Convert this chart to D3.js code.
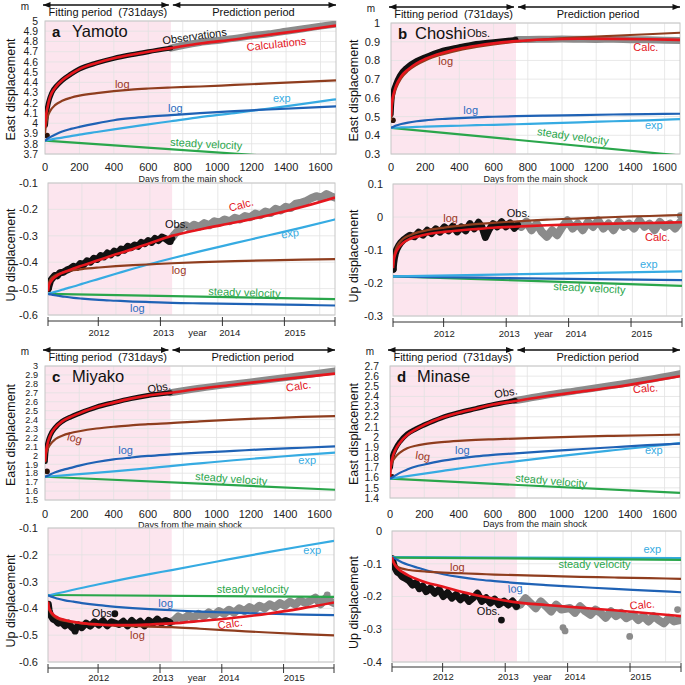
<!DOCTYPE html>
<html>
<head>
<meta charset="utf-8">
<script src="https://cdn.jsdelivr.net/npm/d3@7"></script>
<style>
  body { margin: 0; background: #fff; }
  svg { font-family: "Liberation Sans", Arial, sans-serif; }
</style>
</head>
<body>
<svg width="685" height="685"></svg>
<script>
/* shared axis values */
var fitDays = 731;
var dayMax = 1690;
var dayTicks = [0, 200, 400, 600, 800, 1000, 1200, 1400, 1600];
var yearTickDays = [296, 662, 1027, 1392];
var yearLabelDays = [300, 680, 1070, 1455];
var yearLabels = ["2012", "2013", "2014", "2015"];
var sampleDays = [0, 5, 15, 30, 60, 100, 150, 200, 300, 400, 500, 600, 731, 900, 1100, 1300, 1500, 1690];

/* a Yamoto */
var yamotoEastObs = [[0,3.88],[3,3.98],[10,4.11],[20,4.2],[40,4.3],[70,4.37],[100,4.42],[150,4.48],[200,4.53],[300,4.59],[400,4.635],[500,4.67],[600,4.70],[731,4.735],[800,4.76],[900,4.79],[1000,4.81],[1100,4.83],[1200,4.855],[1300,4.875],[1400,4.9],[1500,4.925],[1600,4.95],[1690,4.97]];
var yamotoEastCalc = [3.96, 4.06, 4.16, 4.26, 4.35, 4.42, 4.48, 4.53, 4.59, 4.635, 4.67, 4.70, 4.735, 4.78, 4.82, 4.865, 4.91, 4.955];
var yamotoEastLogBrown = [3.9, 3.98, 4.06, 4.12, 4.18, 4.22, 4.25, 4.27, 4.295, 4.315, 4.33, 4.34, 4.35, 4.36, 4.375, 4.39, 4.405, 4.42];
var yamotoEastLogBlue = [3.83, 3.835, 3.85, 3.865, 3.89, 3.92, 3.945, 3.965, 4.0, 4.03, 4.05, 4.065, 4.08, 4.1, 4.12, 4.135, 4.15, 4.165];
var yamotoEastExp = [3.83, 3.832, 3.835, 3.84, 3.85, 3.86, 3.875, 3.89, 3.915, 3.94, 3.965, 3.99, 4.02, 4.06, 4.1, 4.145, 4.19, 4.235];
var yamotoEastSteady = [[0,3.83],[1690,3.636]];

var yamotoUpObs = [[2,-0.50],[8,-0.485],[15,-0.47],[25,-0.462],[40,-0.45],[55,-0.452],[70,-0.44],[90,-0.438],[110,-0.43],[130,-0.425],[150,-0.415],[170,-0.42],[190,-0.405],[210,-0.41],[230,-0.395],[250,-0.40],[270,-0.385],[290,-0.39],[310,-0.375],[330,-0.38],[350,-0.365],[370,-0.372],[390,-0.358],[410,-0.365],[430,-0.35],[450,-0.355],[470,-0.34],[490,-0.345],[510,-0.335],[530,-0.34],[550,-0.325],[570,-0.33],[590,-0.318],[610,-0.325],[630,-0.31],[650,-0.318],[670,-0.305],[690,-0.31],[710,-0.32],[728,-0.31],[745,-0.295],[765,-0.28],[785,-0.27],[810,-0.26],[835,-0.27],[860,-0.258],[890,-0.266],[920,-0.252],[950,-0.26],[980,-0.245],[1010,-0.25],[1040,-0.238],[1070,-0.245],[1100,-0.232],[1130,-0.238],[1160,-0.225],[1190,-0.23],[1220,-0.216],[1250,-0.222],[1280,-0.208],[1310,-0.214],[1340,-0.198],[1370,-0.204],[1400,-0.19],[1430,-0.195],[1460,-0.178],[1490,-0.175],[1520,-0.168],[1550,-0.158],[1580,-0.15],[1610,-0.155],[1640,-0.142],[1665,-0.15],[1688,-0.155]];
var yamotoUpOutliers = [[2,-0.50],[720,-0.322]];
var yamotoUpCalc = [-0.51, -0.49, -0.475, -0.462, -0.448, -0.436, -0.424, -0.413, -0.392, -0.37, -0.35, -0.328, -0.30, -0.275, -0.25, -0.222, -0.19, -0.155];
var yamotoUpLogBrown = [-0.505, -0.48, -0.465, -0.455, -0.445, -0.437, -0.43, -0.426, -0.42, -0.415, -0.411, -0.408, -0.404, -0.40, -0.396, -0.393, -0.39, -0.388];
var yamotoUpLogBlue = [-0.52, -0.521, -0.522, -0.524, -0.527, -0.531, -0.535, -0.538, -0.543, -0.546, -0.549, -0.551, -0.554, -0.556, -0.558, -0.56, -0.562, -0.564];
var yamotoUpExp = [-0.52, -0.519, -0.517, -0.514, -0.509, -0.501, -0.492, -0.482, -0.463, -0.444, -0.425, -0.407, -0.385, -0.358, -0.328, -0.298, -0.268, -0.238];
var yamotoUpSteady = [[0,-0.52],[1690,-0.54]];

/* b Choshi */
var choshiEastObs = [[0,0.48],[1,0.51],[3,0.55],[6,0.59],[12,0.63],[25,0.67],[50,0.72],[93,0.765],[150,0.80],[200,0.82],[288,0.85],[400,0.873],[483,0.888],[600,0.9],[731,0.912],[800,0.912],[900,0.913],[1000,0.914],[1100,0.913],[1200,0.912],[1300,0.913],[1400,0.911],[1500,0.91],[1600,0.908],[1690,0.907]];
var choshiEastCalc = [0.50, 0.57, 0.62, 0.665, 0.715, 0.752, 0.785, 0.808, 0.84, 0.862, 0.878, 0.891, 0.903, 0.912, 0.916, 0.915, 0.913, 0.91];
var choshiEastLogBrown = [0.48, 0.55, 0.605, 0.652, 0.705, 0.745, 0.777, 0.80, 0.832, 0.855, 0.872, 0.886, 0.90, 0.912, 0.923, 0.932, 0.94, 0.948];
var choshiEastLogBlue = [0.44, 0.442, 0.446, 0.452, 0.46, 0.468, 0.475, 0.48, 0.487, 0.492, 0.496, 0.499, 0.502, 0.505, 0.508, 0.511, 0.513, 0.515];
var choshiEastExp = [0.44, 0.44, 0.441, 0.441, 0.442, 0.443, 0.445, 0.446, 0.449, 0.451, 0.454, 0.456, 0.459, 0.464, 0.469, 0.475, 0.48, 0.486];
var choshiEastSteady = [[0,0.44],[1690,0.292]];

var choshiUpObs = [[1,-0.158],[4,-0.14],[8,-0.125],[14,-0.11],[22,-0.098],[32,-0.088],[45,-0.078],[60,-0.07],[80,-0.062],[100,-0.055],[125,-0.06],[150,-0.046],[175,-0.055],[200,-0.04],[225,-0.05],[250,-0.036],[275,-0.046],[300,-0.03],[325,-0.042],[350,-0.028],[375,-0.045],[400,-0.03],[425,-0.042],[450,-0.02],[475,-0.036],[500,-0.016],[520,-0.03],[540,-0.062],[560,-0.04],[585,-0.02],[610,-0.03],[635,-0.014],[660,-0.03],[685,-0.018],[710,-0.034],[728,-0.024],[750,-0.03],[780,-0.014],[810,-0.04],[840,-0.02],[870,-0.045],[900,-0.06],[930,-0.04],[960,-0.055],[990,-0.03],[1020,-0.01],[1050,-0.035],[1080,-0.02],[1110,-0.04],[1140,-0.015],[1170,-0.03],[1200,-0.01],[1230,-0.035],[1260,-0.02],[1290,-0.04],[1320,-0.015],[1350,-0.03],[1380,-0.02],[1410,-0.035],[1440,-0.01],[1470,-0.03],[1500,-0.02],[1530,-0.04],[1560,-0.015],[1590,-0.03],[1620,-0.02],[1650,-0.035],[1680,-0.015]];
var choshiUpOutliers = [[1,-0.158],[1680,0.004]];
var choshiUpCalc = [-0.155, -0.13, -0.11, -0.095, -0.078, -0.066, -0.058, -0.052, -0.045, -0.04, -0.036, -0.032, -0.029, -0.025, -0.022, -0.02, -0.018, -0.016];
var choshiUpLogBrown = [-0.15, -0.125, -0.1, -0.083, -0.066, -0.055, -0.046, -0.04, -0.032, -0.026, -0.021, -0.017, -0.013, -0.008, -0.004, 0.0, 0.003, 0.006];
var choshiUpLogBlue = [[0,-0.18],[200,-0.182],[500,-0.184],[900,-0.187],[1300,-0.189],[1690,-0.191]];
var choshiUpExp = [[0,-0.18],[1690,-0.165]];
var choshiUpSteady = [[0,-0.18],[1690,-0.209]];

/* c Miyako */
var miyakoEastObs = [[0,1.82],[2,1.93],[5,2.02],[15,2.13],[30,2.22],[60,2.31],[100,2.38],[150,2.43],[200,2.47],[300,2.54],[400,2.59],[500,2.635],[600,2.67],[731,2.70],[900,2.75],[1100,2.80],[1300,2.845],[1500,2.895],[1690,2.945]];
var miyakoEastCalc = [1.93, 2.03, 2.13, 2.22, 2.31, 2.38, 2.43, 2.47, 2.54, 2.59, 2.635, 2.67, 2.70, 2.745, 2.79, 2.835, 2.875, 2.915];
var miyakoEastLogBrown = [1.92, 2.0, 2.07, 2.12, 2.18, 2.22, 2.25, 2.27, 2.30, 2.32, 2.335, 2.35, 2.36, 2.38, 2.40, 2.415, 2.43, 2.44];
var miyakoEastLogBlue = [1.76, 1.763, 1.77, 1.785, 1.81, 1.835, 1.86, 1.885, 1.925, 1.955, 1.975, 1.993, 2.01, 2.03, 2.05, 2.07, 2.085, 2.10];
var miyakoEastExp = [[0,1.76],[200,1.79],[400,1.82],[600,1.855],[731,1.88],[900,1.91],[1100,1.945],[1300,1.975],[1500,2.005],[1690,2.03]];
var miyakoEastSteady = [[0,1.76],[1690,1.615]];

var miyakoUpObs = [[2,-0.385],[6,-0.405],[12,-0.42],[20,-0.43],[30,-0.44],[45,-0.445],[60,-0.455],[80,-0.45],[100,-0.465],[120,-0.455],[140,-0.47],[160,-0.48],[180,-0.462],[200,-0.472],[225,-0.455],[250,-0.466],[275,-0.45],[300,-0.462],[325,-0.446],[350,-0.465],[375,-0.45],[420,-0.46],[445,-0.448],[470,-0.465],[495,-0.445],[520,-0.46],[545,-0.448],[570,-0.465],[595,-0.445],[620,-0.456],[645,-0.44],[670,-0.455],[695,-0.445],[720,-0.452],[745,-0.445],[770,-0.43],[800,-0.44],[830,-0.425],[860,-0.436],[890,-0.42],[920,-0.43],[950,-0.415],[980,-0.426],[1010,-0.41],[1040,-0.42],[1070,-0.405],[1100,-0.416],[1130,-0.40],[1160,-0.41],[1190,-0.395],[1220,-0.405],[1250,-0.39],[1280,-0.40],[1310,-0.385],[1340,-0.395],[1370,-0.38],[1400,-0.39],[1430,-0.375],[1460,-0.386],[1490,-0.37],[1520,-0.38],[1550,-0.372],[1580,-0.36],[1610,-0.385],[1640,-0.362],[1665,-0.372],[1688,-0.38]];
var miyakoUpOutliers = [[395,-0.42],[160,-0.485],[1650,-0.35]];
var miyakoUpCalc = [-0.375, -0.395, -0.41, -0.422, -0.435, -0.443, -0.45, -0.455, -0.46, -0.462, -0.462, -0.46, -0.456, -0.447, -0.435, -0.42, -0.40, -0.378];
var miyakoUpLogBrown = [-0.375, -0.40, -0.415, -0.427, -0.44, -0.447, -0.452, -0.456, -0.461, -0.464, -0.466, -0.468, -0.47, -0.476, -0.483, -0.49, -0.496, -0.501];
var miyakoUpLogBlue = [-0.352, -0.353, -0.355, -0.358, -0.364, -0.37, -0.375, -0.38, -0.388, -0.394, -0.399, -0.403, -0.407, -0.412, -0.416, -0.42, -0.423, -0.425];
var miyakoUpExp = [[0,-0.352],[300,-0.31],[600,-0.272],[731,-0.257],[1000,-0.225],[1300,-0.19],[1500,-0.168],[1690,-0.148]];
var miyakoUpSteady = [[0,-0.35],[1690,-0.357]];

/* d Minase */
var minaseEastObs = [[0,1.61],[3,1.70],[8,1.77],[15,1.82],[30,1.88],[60,1.96],[100,2.03],[150,2.08],[200,2.12],[300,2.19],[400,2.24],[500,2.28],[600,2.32],[731,2.36],[900,2.41],[1100,2.46],[1300,2.51],[1500,2.565],[1690,2.625]];
var minaseEastCalc = [1.61, 1.72, 1.80, 1.87, 1.95, 2.02, 2.075, 2.12, 2.19, 2.24, 2.28, 2.32, 2.355, 2.40, 2.445, 2.49, 2.545, 2.60];
var minaseEastLogBrown = [1.61, 1.70, 1.76, 1.80, 1.85, 1.89, 1.915, 1.93, 1.95, 1.963, 1.972, 1.978, 1.985, 1.995, 2.005, 2.012, 2.018, 2.024];
var minaseEastLogBlue = [1.59, 1.595, 1.605, 1.62, 1.65, 1.68, 1.71, 1.73, 1.765, 1.79, 1.81, 1.825, 1.84, 1.86, 1.88, 1.90, 1.92, 1.935];
var minaseEastExp = [[0,1.59],[300,1.665],[600,1.735],[731,1.76],[1000,1.815],[1300,1.87],[1500,1.905],[1690,1.94]];
var minaseEastSteady = [[0,1.59],[1690,1.45]];

var minaseUpObs = [[2,-0.085],[6,-0.095],[12,-0.105],[20,-0.115],[30,-0.125],[45,-0.13],[60,-0.14],[80,-0.145],[100,-0.152],[120,-0.165],[140,-0.158],[160,-0.176],[180,-0.168],[200,-0.185],[225,-0.174],[250,-0.19],[275,-0.178],[300,-0.2],[325,-0.188],[350,-0.205],[375,-0.194],[400,-0.21],[425,-0.198],[450,-0.215],[475,-0.204],[500,-0.19],[525,-0.215],[550,-0.204],[575,-0.22],[600,-0.208],[625,-0.225],[655,-0.214],[680,-0.226],[705,-0.214],[728,-0.23],[750,-0.225],[780,-0.205],[810,-0.22],[840,-0.236],[870,-0.215],[900,-0.23],[930,-0.246],[960,-0.225],[990,-0.24],[1040,-0.235],[1070,-0.25],[1100,-0.23],[1130,-0.245],[1160,-0.256],[1190,-0.24],[1220,-0.25],[1250,-0.265],[1280,-0.245],[1310,-0.26],[1340,-0.25],[1370,-0.266],[1410,-0.255],[1440,-0.272],[1470,-0.26],[1500,-0.276],[1530,-0.26],[1560,-0.272],[1590,-0.282],[1620,-0.265],[1650,-0.276],[1688,-0.272]];
var minaseUpOutliers = [[640,-0.272],[1000,-0.295],[1012,-0.305],[1390,-0.322],[1670,-0.24]];
var minaseUpCalc = [-0.08, -0.09, -0.102, -0.113, -0.125, -0.137, -0.148, -0.157, -0.17, -0.185, -0.197, -0.207, -0.218, -0.226, -0.234, -0.242, -0.251, -0.26];
var minaseUpLogBrown = [-0.08, -0.09, -0.1, -0.108, -0.115, -0.119, -0.122, -0.124, -0.127, -0.129, -0.131, -0.133, -0.135, -0.137, -0.14, -0.142, -0.144, -0.146];
var minaseUpLogBlue = [-0.08, -0.081, -0.083, -0.088, -0.096, -0.104, -0.112, -0.12, -0.132, -0.141, -0.148, -0.153, -0.159, -0.165, -0.171, -0.177, -0.182, -0.187];
var minaseUpExp = [[0,-0.08],[1690,-0.083]];
var minaseUpSteady = [[0,-0.081],[1690,-0.088]];

/* in-plot labels: text, day, value, colour key, angle */
var yamotoEastNotes = [["Observations",685,4.77,"obs",-8],["Calculations",1173,4.707,"calc",-6],["log",406,4.345,"logBrown",0],["log",714,4.113,"logBlue",0],["exp",1324,4.21,"exp",0],["steady velocity",726,3.78,"steady",3]];
var yamotoUpNotes = [["Calc.",1072,-0.209,"calc",-15],["Obs.",689,-0.269,"obs",0],["exp",1376,-0.31,"exp",-8],["log",728,-0.446,"logBrown",0],["steady velocity",944,-0.524,"steady",2],["log",483,-0.588,"logBlue",0]];
var choshiEastNotes = [["Obs.",444,0.924,"obs",0],["log",277,0.774,"logBrown",0],["Calc.",1417,0.851,"calc",0],["log",423,0.512,"logBlue",0],["exp",1485,0.432,"exp",0],["steady velocity",852,0.401,"steady",8]];
var choshiUpNotes = [["log",294,-0.016,"logBrown",0],["Obs.",665,0.001,"obs",0],["Calc.",1474,-0.073,"calc",0],["exp",1444,-0.154,"exp",0],["steady velocity",937,-0.221,"steady",3]];
var miyakoEastNotes = [["Obs.",602,2.695,"obs",-10],["Calc.",1408,2.713,"calc",-8],["log",126,2.172,"logBrown",15],["log",427,2.015,"logBlue",0],["exp",1476,1.903,"exp",0],["steady velocity",874,1.724,"steady",4]];
var miyakoUpNotes = [["exp",1509,-0.198,"exp",0],["steady velocity",997,-0.341,"steady",0],["log",652,-0.394,"logBlue",0],["Obs.",258,-0.433,"obs",0],["Calc.",1006,-0.478,"calc",-8],["log",485,-0.515,"logBrown",0]];
var minaseEastNotes = [["Obs.",612,2.382,"obs",-10],["Calc.",1418,2.431,"calc",-5],["log",146,1.786,"logBrown",8],["log",379,1.832,"logBlue",0],["exp",1486,1.832,"exp",0],["steady velocity",728,1.563,"steady",5]];
var minaseUpNotes = [["exp",1470,-0.067,"exp",0],["steady velocity",973,-0.112,"steady",0],["log",339,-0.123,"logBrown",0],["log",680,-0.189,"logBlue",-5],["Calc.",1392,-0.24,"calc",-5],["Obs.",496,-0.255,"obs",0]];

/* look */
var colors = { calc: "#e5161d", obs: "#111111", obsLate: "#8b8b8b", logBrown: "#8f3d1e", logBlue: "#1f62b5",
  exp: "#36abe2", steady: "#2aa64b", pink: "#fce5ee", grid: "#e2e2e2", frame: "#c6c6c6" };
var noteColors = { obs: "#111", calc: "#e3141c", logBrown: "#9b3523", logBlue: "#2b6cc0", exp: "#38ace2", steady: "#2aa64b" };

var layout = {
  aE: { l: 45, r: 336, t: 21, b: 154, pad: 7, titleX: 11, dayY: 171, daysTitleY: 182 },
  aU: { l: 48, r: 335, t: 183, b: 315, pad: 10, titleX: 11, axisY: 321, labelY: 336 },
  bE: { l: 391, r: 680, t: 23, b: 154, pad: 11, titleX: 354, dayY: 171, daysTitleY: 182 },
  bU: { l: 393, r: 682, t: 184, b: 316, pad: 10, titleX: 354, axisY: 322, labelY: 337 },
  cE: { l: 45, r: 335, t: 366, b: 500, pad: 7, titleX: 11, dayY: 518, daysTitleY: 528 },
  cU: { l: 48, r: 334, t: 528, b: 662, pad: 10, titleX: 11, axisY: 668, labelY: 681 },
  dE: { l: 390, r: 680, t: 366, b: 498, pad: 11, titleX: 354, dayY: 518, daysTitleY: 527 },
  dU: { l: 392, r: 681, t: 531, b: 662, pad: 10, titleX: 354, axisY: 667, labelY: 680 }
};

//pairs a value list with the sample days, or passes [day, value] lists through
function asPairs(vals) {
  if (Array.isArray(vals[0])) return vals;
  return sampleDays.map((d, i) => [d, vals[i]]);
}

var panels = [
  { key: "aE", kind: "east", letter: "a", name: "Yamoto", yDomain: [3.7, 5.0], obs: yamotoEastObs,
    series: { steady: yamotoEastSteady, exp: yamotoEastExp, logBlue: yamotoEastLogBlue, logBrown: yamotoEastLogBrown, calc: yamotoEastCalc }, notes: yamotoEastNotes },
  { key: "aU", kind: "up", yDomain: [-0.6, -0.1], obs: yamotoUpObs, outliers: yamotoUpOutliers,
    series: { steady: yamotoUpSteady, exp: yamotoUpExp, logBlue: yamotoUpLogBlue, logBrown: yamotoUpLogBrown, calc: yamotoUpCalc }, notes: yamotoUpNotes },
  { key: "bE", kind: "east", letter: "b", name: "Choshi", yDomain: [0.3, 1.0], obs: choshiEastObs,
    series: { steady: choshiEastSteady, exp: choshiEastExp, logBlue: choshiEastLogBlue, logBrown: choshiEastLogBrown, calc: choshiEastCalc }, notes: choshiEastNotes },
  { key: "bU", kind: "up", yDomain: [-0.3, 0.1], obs: choshiUpObs, outliers: choshiUpOutliers,
    series: { steady: choshiUpSteady, logBlue: choshiUpLogBlue, exp: choshiUpExp, logBrown: choshiUpLogBrown, calc: choshiUpCalc }, notes: choshiUpNotes },
  { key: "cE", kind: "east", letter: "c", name: "Miyako", yDomain: [1.5, 3.0], obs: miyakoEastObs,
    series: { steady: miyakoEastSteady, exp: miyakoEastExp, logBlue: miyakoEastLogBlue, logBrown: miyakoEastLogBrown, calc: miyakoEastCalc }, notes: miyakoEastNotes },
  { key: "cU", kind: "up", yDomain: [-0.6, -0.1], obs: miyakoUpObs, outliers: miyakoUpOutliers,
    series: { steady: miyakoUpSteady, exp: miyakoUpExp, logBlue: miyakoUpLogBlue, logBrown: miyakoUpLogBrown, calc: miyakoUpCalc }, notes: miyakoUpNotes },
  { key: "dE", kind: "east", letter: "d", name: "Minase", yDomain: [1.4, 2.7], obs: minaseEastObs,
    series: { steady: minaseEastSteady, exp: minaseEastExp, logBlue: minaseEastLogBlue, logBrown: minaseEastLogBrown, calc: minaseEastCalc }, notes: minaseEastNotes },
  { key: "dU", kind: "up", yDomain: [-0.4, 0.0], obs: minaseUpObs, outliers: minaseUpOutliers,
    series: { exp: minaseUpExp, steady: minaseUpSteady, logBlue: minaseUpLogBlue, logBrown: minaseUpLogBrown, calc: minaseUpCalc }, notes: minaseUpNotes }
];

var svg = d3.select("svg");
var defs = svg.append("defs");
defs.append("marker")
    .attr("id", "arrowHead")
    .attr("viewBox", "0 0 10 8")
    .attr("refX", 10).attr("refY", 4)
    .attr("markerUnits", "userSpaceOnUse")
    .attr("markerWidth", 8).attr("markerHeight", 6)
    .attr("orient", "auto-start-reverse")
  .append("path").attr("d", "M0,0 L10,4 L0,8 z").attr("fill", "#111");

var fmt = d => String(+d.toFixed(2));

function drawPanel(p) {
  var box = layout[p.key];
  var g = svg.append("g");
  var x = d3.scaleLinear().domain([0, dayMax]).range([box.l, box.r]);
  var y = d3.scaleLinear().domain(p.yDomain).range([box.b, box.t]);
  var clipId = "clip-" + p.key;
  defs.append("clipPath").attr("id", clipId).append("rect")
      .attr("x", box.l).attr("y", box.t)
      .attr("width", box.r - box.l).attr("height", box.b - box.t);

  // fitting period shading
  g.append("rect")
      .attr("x", x(0)).attr("y", box.t)
      .attr("width", x(fitDays) - x(0)).attr("height", box.b - box.t)
      .attr("fill", colors.pink);

  // grid
  var yTicks = y.ticks(Math.round((p.yDomain[1] - p.yDomain[0]) / 0.1));
  g.selectAll(null).data(yTicks).enter().append("line")
      .attr("x1", box.l).attr("x2", box.r)
      .attr("y1", d => y(d)).attr("y2", d => y(d))
      .attr("stroke", colors.grid).attr("stroke-width", 0.8);
  g.selectAll(null).data(dayTicks.slice(1)).enter().append("line")
      .attr("x1", d => x(d)).attr("x2", d => x(d))
      .attr("y1", box.t).attr("y2", box.b)
      .attr("stroke", colors.grid).attr("stroke-width", 0.8);
  g.append("rect")
      .attr("x", box.l).attr("y", box.t)
      .attr("width", box.r - box.l).attr("height", box.b - box.t)
      .attr("fill", "none").attr("stroke", colors.frame).attr("stroke-width", 1);

  // y tick labels, shrunk where the ticks are packed tight
  var step = Math.abs(y(yTicks[0]) - y(yTicks[1]));
  var tickSize = Math.min(11, step * 1.02);
  g.selectAll(null).data(yTicks).enter().append("text")
      .attr("x", box.l - box.pad).attr("y", d => y(d)).attr("dy", "0.36em")
      .attr("text-anchor", "end").attr("font-size", tickSize).attr("fill", "#222")
      .text(fmt);

  var line = d3.line().x(d => x(d[0])).y(d => y(d[1])).curve(d3.curveMonotoneX);
  var plot = g.append("g").attr("clip-path", "url(#" + clipId + ")");

  // observations, black while fitting and grey afterwards
  var early = p.obs.filter(d => d[0] <= fitDays);
  var late = [early[early.length - 1]].concat(p.obs.filter(d => d[0] > fitDays));
  if (p.kind === "east") {
    plot.append("path").attr("d", line(late)).attr("fill", "none")
        .attr("stroke", colors.obsLate).attr("stroke-width", 7).attr("stroke-linecap", "round");
    plot.append("path").attr("d", line(early.slice(1))).attr("fill", "none")
        .attr("stroke", colors.obs).attr("stroke-width", 5).attr("stroke-linecap", "round");
    plot.append("circle").attr("cx", x(p.obs[0][0]) + 2).attr("cy", y(p.obs[0][1]))
        .attr("r", 2.8).attr("fill", "#2a1208");
  } else {
    // dense daily points read as a ragged band
    var jag = d3.line().x(d => x(d[0])).y(d => y(d[1]));
    plot.append("path").attr("d", jag(late)).attr("fill", "none")
        .attr("stroke", colors.obsLate).attr("stroke-width", 8)
        .attr("stroke-linejoin", "round").attr("stroke-linecap", "round");
    plot.append("path").attr("d", jag(early)).attr("fill", "none")
        .attr("stroke", colors.obs).attr("stroke-width", 7)
        .attr("stroke-linejoin", "round").attr("stroke-linecap", "round");
    plot.selectAll(null).data(p.outliers).enter().append("circle")
        .attr("cx", d => x(d[0])).attr("cy", d => y(d[1])).attr("r", 3.4)
        .attr("fill", d => d[0] <= fitDays ? colors.obs : colors.obsLate);
  }

  // model curves
  Object.keys(p.series).forEach(k => {
    plot.append("path")
        .attr("d", line(asPairs(p.series[k])))
        .attr("fill", "none")
        .attr("stroke", colors[k])
        .attr("stroke-width", k === "calc" ? 2.6 : 2.2);
  });

  // labels inside the plot
  p.notes.forEach(n => {
    g.append("text")
        .attr("transform", "translate(" + x(n[1]) + "," + y(n[2]) + ") rotate(" + n[4] + ")")
        .attr("font-size", 11).attr("fill", noteColors[n[3]])
        .text(n[0]);
  });

  var midY = (box.t + box.b) / 2;
  if (p.kind === "east") {
    // header arrows
    var ay = box.t - 16;
    g.append("line").attr("x1", x(0) - 2).attr("x2", x(fitDays) - 2).attr("y1", ay).attr("y2", ay)
        .attr("stroke", "#111").attr("stroke-width", 1.4)
        .attr("marker-start", "url(#arrowHead)").attr("marker-end", "url(#arrowHead)");
    g.append("line").attr("x1", x(fitDays) + 2).attr("x2", box.r).attr("y1", ay).attr("y2", ay)
        .attr("stroke", "#111").attr("stroke-width", 1.4)
        .attr("marker-start", "url(#arrowHead)").attr("marker-end", "url(#arrowHead)");
    g.append("text").attr("x", (x(0) + x(fitDays)) / 2).attr("y", box.t - 5)
        .attr("text-anchor", "middle").attr("font-size", 11).attr("fill", "#111")
        .attr("xml:space", "preserve").text("Fitting period  (731days)");
    g.append("text").attr("x", (x(fitDays) + box.r) / 2).attr("y", box.t - 5)
        .attr("text-anchor", "middle").attr("font-size", 11).attr("fill", "#111")
        .text("Prediction period");
    g.append("text").attr("x", box.l - 20).attr("y", box.t - 11)
        .attr("text-anchor", "middle").attr("font-size", 10).attr("fill", "#222").text("m");

    // station name
    g.append("text").attr("x", box.l + 7).attr("y", box.t + 16)
        .attr("font-size", 15).attr("font-weight", "bold").attr("fill", "#111").text(p.letter);
    g.append("text").attr("x", box.l + (p.letter === "b" ? 24 : 27)).attr("y", box.t + 16)
        .attr("font-size", 16.5).attr("fill", "#111").text(p.name);

    // day axis labels
    g.selectAll(null).data(dayTicks).enter().append("text")
        .attr("x", d => x(d)).attr("y", box.dayY)
        .attr("text-anchor", "middle").attr("font-size", 11).attr("fill", "#222")
        .text(d => d);
    g.append("text").attr("x", (box.l + box.r) / 2).attr("y", box.daysTitleY)
        .attr("text-anchor", "middle").attr("font-size", 9).attr("fill", "#222")
        .text("Days from the main shock");

    g.append("text")
        .attr("transform", "translate(" + box.titleX + "," + (midY + 2) + ") rotate(-90)")
        .attr("text-anchor", "middle").attr("dy", "0.35em").attr("font-size", 12.5).attr("fill", "#111")
        .text("East displacement");
  } else {
    // calendar axis
    var yy = box.axisY;
    g.append("line").attr("x1", x(0)).attr("x2", x(dayMax)).attr("y1", yy).attr("y2", yy)
        .attr("stroke", "#333").attr("stroke-width", 1);
    g.selectAll(null).data([0].concat(yearTickDays, [dayMax])).enter().append("line")
        .attr("x1", d => x(d)).attr("x2", d => x(d))
        .attr("y1", yy - 4).attr("y2", yy + 5)
        .attr("stroke", "#333").attr("stroke-width", 1);
    g.selectAll(null).data(yearLabels).enter().append("text")
        .attr("x", (d, i) => x(yearLabelDays[i])).attr("y", box.labelY)
        .attr("text-anchor", "middle").attr("font-size", 9.5).attr("fill", "#222")
        .text(d => d);
    g.append("text").attr("x", x(880)).attr("y", box.labelY)
        .attr("text-anchor", "middle").attr("font-size", 9.5).attr("fill", "#222").text("year");

    g.append("text")
        .attr("transform", "translate(" + box.titleX + "," + (midY + 6) + ") rotate(-90)")
        .attr("text-anchor", "middle").attr("dy", "0.35em").attr("font-size", 12.5).attr("fill", "#111")
        .text("Up displacement");
  }
}

panels.forEach(drawPanel);
</script>
</body>
</html>
